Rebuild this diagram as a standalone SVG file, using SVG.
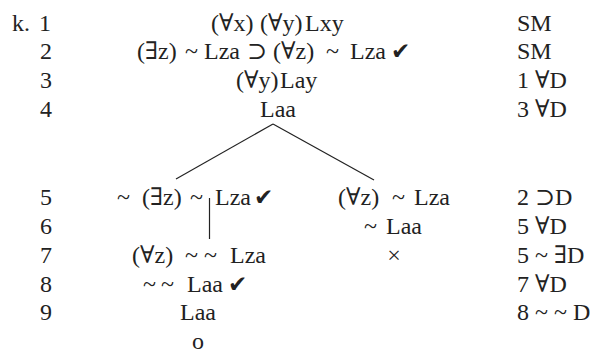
<svg xmlns="http://www.w3.org/2000/svg" width="600" height="354" viewBox="0 0 600 354">
<style>
text{font-family:"Liberation Serif","DejaVu Serif",serif;font-size:24px;fill:#222;white-space:pre}
.n{text-anchor:middle}
.c{text-anchor:middle}
.j{text-anchor:start}
.ck{font-family:"DejaVu Sans",sans-serif;font-size:23px}
line{stroke:#222;stroke-width:1.2}
</style>
<rect width="600" height="354" fill="#fff"/>
<g id="labels">
<text x="12" y="31">k.</text>
<text class="n" x="45" y="31">1</text>
<text class="n" x="46" y="59">2</text>
<text class="n" x="46" y="88">3</text>
<text class="n" x="46" y="117">4</text>
<text class="n" x="46" y="205">5</text>
<text class="n" x="46" y="234">6</text>
<text class="n" x="46" y="263">7</text>
<text class="n" x="46" y="292">8</text>
<text class="n" x="46" y="320">9</text>
</g>
<g id="node1"><text y="31"><tspan x="211">(∀x)</tspan><tspan x="260">(∀y)</tspan><tspan x="305">Lxy</tspan></text></g>
<g id="node2"><text y="59"><tspan x="137">(∃z)</tspan><tspan x="185">~</tspan><tspan x="204">Lza</tspan><tspan x="247">⊃</tspan><tspan x="273">(∀z)</tspan><tspan x="326">~</tspan><tspan x="350">Lza</tspan></text><text class="ck" x="391" y="59">✔</text></g>
<g id="node3"><text y="88"><tspan x="236">(∀y)</tspan><tspan x="280">Lay</tspan></text></g>
<g id="node4"><text class="c" x="278" y="117">Laa</text></g>
<g id="node5"><text y="205"><tspan x="117">~</tspan><tspan x="142">(∃z)</tspan><tspan x="190">~</tspan><tspan x="215">Lza</tspan></text><text class="ck" x="254" y="205">✔</text></g>
<g id="node5r"><text y="205"><tspan x="338">(∀z)</tspan><tspan x="392">~</tspan><tspan x="414">Lza</tspan></text></g>
<g id="node6r"><text y="234"><tspan x="364">~</tspan><tspan x="386">Laa</tspan></text></g>
<g id="node6x"><text class="c" x="394" y="263">×</text></g>
<g id="node7"><text y="263"><tspan x="132">(∀z)</tspan><tspan x="185">~</tspan><tspan x="204">~</tspan><tspan x="230">Lza</tspan></text></g>
<g id="node8"><text y="292"><tspan x="143">~</tspan><tspan x="161">~</tspan><tspan x="187">Laa</tspan></text><text class="ck" x="228" y="292">✔</text></g>
<g id="node9"><text class="c" x="198" y="320">Laa</text></g>
<g id="node10"><text class="c" x="198" y="349">o</text></g>
<g id="justifications">
<text class="j" x="517" y="31">SM</text>
<text class="j" x="517" y="59">SM</text>
<text class="j" x="517" y="88">1 ∀D</text>
<text class="j" x="517" y="117">3 ∀D</text>
<text class="j" x="517" y="205">2 ⊃D</text>
<text class="j" x="517" y="234">5 ∀D</text>
<text class="j" x="517" y="263">5 ~ ∃D</text>
<text class="j" x="517" y="292">7 ∀D</text>
<text class="j" x="517" y="320">8 ~ ~ D</text>
</g>
<g id="connectors">
<line x1="273" y1="124" x2="176" y2="179"/>
<line x1="273" y1="124" x2="374" y2="180"/>
<line x1="209.5" y1="198" x2="209.5" y2="239"/>
</g>
</svg>
